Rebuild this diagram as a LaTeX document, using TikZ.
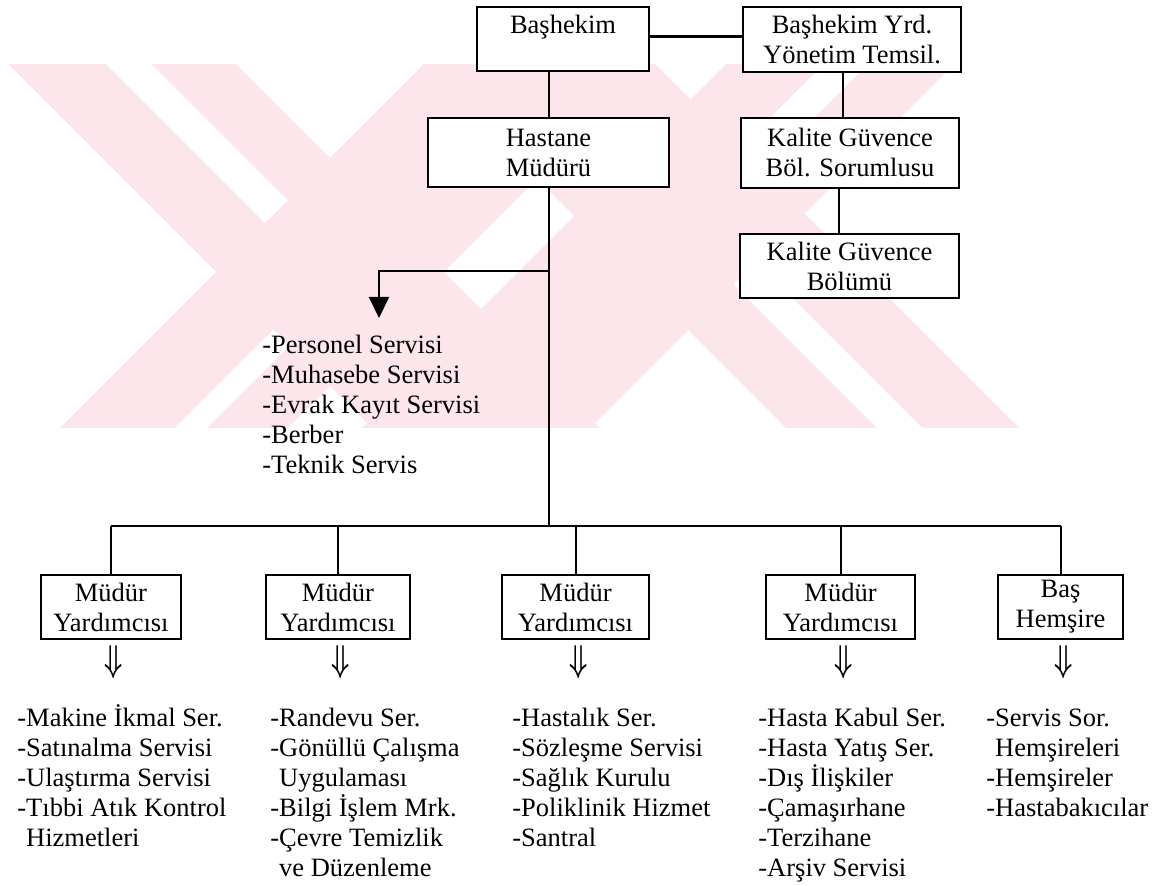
\documentclass[tikz,border=0pt]{standalone}
\usepackage{fontspec}
\setmainfont{Liberation Serif}
\usetikzlibrary{arrows.meta,positioning}
\definecolor{filigran}{RGB}{253,230,235}

\begin{document}
\begin{tikzpicture}[x=0.5pt,y=-0.5pt,
    kutu/.style={draw, fill=white, line width=1pt, align=center, inner sep=0pt,
        font=\fontsize{13.25pt}{15pt}\selectfont},
    liste/.style={align=left, anchor=base west, inner sep=0pt,
        font=\fontsize{13.25pt}{15pt}\selectfont},
    baglanti/.style={line width=1pt},
    asagi/.style={inner sep=0pt, font=\fontsize{13.25pt}{15pt}\selectfont\boldmath}]

\useasboundingbox (0,0) rectangle (1160,886);

% 1. Filigran: soluk kirmizi capraz bantlar
\begin{scope}
\clip (5,65) rectangle (1020,428);
\fill[filigran] (-56,0) -- (172,0) -- (672,500) -- (444,500) -- cycle;
\fill[filigran] (488,0) -- (716,0) -- (216,500) -- (-12,500) -- cycle;
\fill[filigran] (358,0) -- (591,0) -- (1091,500) -- (858,500) -- cycle;
\fill[filigran] (790,0) -- (1018,0) -- (518,500) -- (290,500) -- cycle;
% beyaz seritler
\fill[white] (42,0) -- (87,0) -- (287.5,200.5) -- (265,223) -- cycle;
\fill[white] (103,500) -- (135,500) -- (289.5,345.5) -- (273.5,329.5) -- cycle;
\fill[white] (949,500) -- (994,500) -- (756,262) -- (733.5,284.5) -- cycle;
\fill[white] (888,0) -- (932,0) -- (761.5,170.5) -- (739.5,148.5) -- cycle;
\end{scope}

% 2. Ust kutular
\node[kutu, minimum width=86pt, minimum height=32pt] (bashekim) at (563,39) {Başhekim\\\phantom{B}};
\node[kutu, minimum width=109pt, minimum height=32.5pt] (yrd) at (852,39.5) {Başhekim Yrd.\\Yönetim Temsil.};
\node[kutu, minimum width=120.5pt, minimum height=34.5pt] (mudur) at (548.5,152.5) {Hastane\\Müdürü};
\node[kutu, minimum width=109pt, minimum height=35pt] (kgsor) at (850,153) {Kalite Güvence\\Böl. Sorumlusu};
\node[kutu, minimum width=109.5pt, minimum height=32pt] (kgbol) at (849.5,266) {Kalite Güvence\\Bölümü};

% 3. Alt kutular ve cift oklar
\foreach \ad/\xc/\gen/\metin in {my1/111/70pt/{Müdür\\Yardımcısı},
    my2/338/72pt/{Müdür\\Yardımcısı}, my3/575.5/73.5pt/{Müdür\\Yardımcısı},
    my4/840.5/74.5pt/{Müdür\\Yardımcısı}, bh/1060.5/62.5pt/{Baş\\Hemşire}} {
    \node[kutu, minimum width=\gen, minimum height=32pt] (\ad) at (\xc,607) {\metin};
    \node[asagi, below=2.5pt of \ad, xshift=1.5pt] (\ad-ok) {\scalebox{0.9}[1.3]{$\Downarrow$}};
}

% 4. Baglantilar
\coordinate (hat) at (mudur.south |- 0,526);
\coordinate (ayrim) at (mudur.south |- 0,271);
\coordinate (okucu) at (379,318);

\draw[baglanti, line width=1.5pt] (bashekim.east |- 0,37) -- (yrd.west |- 0,37);
\draw[baglanti] (bashekim.south -| mudur.north) -- (mudur.north);
\draw[baglanti] ([xshift=-4.5pt]yrd.south) -- ([xshift=-4.5pt]yrd.south |- kgsor.north);
\draw[baglanti] ([xshift=-5.5pt]kgsor.south) -- ([xshift=-5.5pt]kgsor.south |- kgbol.north);
\draw[baglanti] (mudur.south) -- (hat);
\draw[baglanti, -{Triangle[width=10pt,length=10.5pt]}] (ayrim) -| (okucu);
\draw[baglanti] (my1.north |- hat) -- (bh.north |- hat);
\foreach \ad in {my1,my2,my3,my4,bh} {
    \draw[baglanti] (\ad.north |- hat) -- (\ad.north);
}

% 5. Birim listeleri (base = son satirin taban cizgisi)
\node[liste] (liste0) at (262,474) {-Personel Servisi\\-Muhasebe Servisi\\-Evrak Kayıt Servisi\\-Berber\\-Teknik Servis};
\node[liste] (liste1) at (17,846) {-Makine İkmal Ser.\\-Satınalma Servisi\\-Ulaştırma Servisi\\-Tıbbi Atık Kontrol\\\phantom{-}Hizmetleri};
\node[liste] (liste2) at (270,876) {-Randevu Ser.\\-Gönüllü Çalışma\\\phantom{-}Uygulaması\\-Bilgi İşlem Mrk.\\-Çevre Temizlik\\\phantom{-}ve Düzenleme};
\node[liste] (liste3) at (512,846) {-Hastalık Ser.\\-Sözleşme Servisi\\-Sağlık Kurulu\\-Poliklinik Hizmet\\-Santral};
\node[liste] (liste4) at (758,876) {-Hasta Kabul Ser.\\-Hasta Yatış Ser.\\-Dış İlişkiler\\-Çamaşırhane\\-Terzihane\\-Arşiv Servisi};
\node[liste] (liste5) at (986,816) {-Servis Sor.\\\phantom{-}Hemşireleri\\-Hemşireler\\-Hastabakıcılar};
\end{tikzpicture}
\end{document}
